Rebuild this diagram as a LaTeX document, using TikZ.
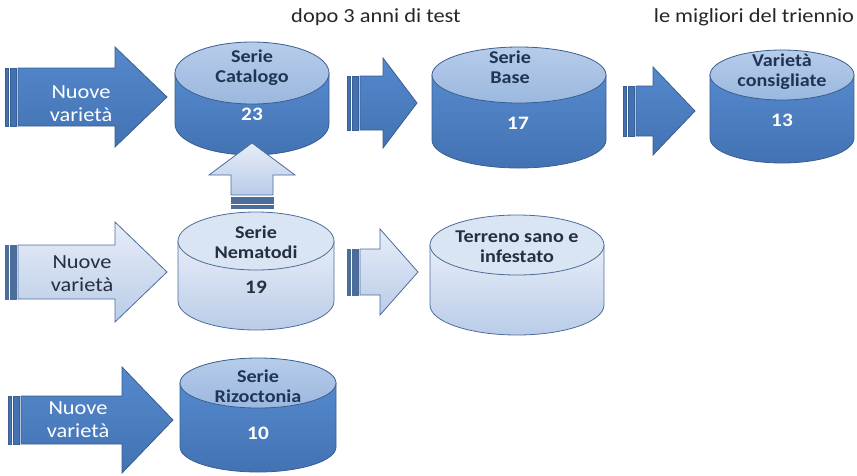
\documentclass[tikz,border=0pt]{standalone}
\usepackage{fontspec}
\setmainfont{Carlito}[FakeStretch=1.12]
\usetikzlibrary{positioning}

\definecolor{edge}{HTML}{3A5E90}
\definecolor{dkhi}{HTML}{5589CC}
\definecolor{dklo}{HTML}{4272B3}
\definecolor{caphi}{HTML}{B6CCEA}
\definecolor{caplo}{HTML}{9CB8DF}
\definecolor{ltedge}{HTML}{4C6D9A}
\definecolor{lthi}{HTML}{E6EDF8}
\definecolor{ltlo}{HTML}{BACCE8}
\definecolor{ltcapc}{HTML}{DAE5F3}
\definecolor{navy}{HTML}{1E3556}
\definecolor{ink}{HTML}{262F3F}

\begin{document}
\begin{tikzpicture}[
  x=1pt, y=-1pt,
  drumdk/.style={draw=edge, line width=0.8pt, top color=dkhi, bottom color=dklo},
  capdk/.style={draw=edge, line width=0.8pt, top color=caphi, bottom color=caplo},
  drumlt/.style={draw=ltedge, line width=0.8pt, top color=lthi, bottom color=ltlo},
  caplt/.style={draw=ltedge, line width=0.8pt, fill=ltcapc},
  stripedk/.style={draw=edge, line width=0.6pt, fill=dklo},
  stripelt/.style={draw=ltedge, line width=0.6pt, fill=ltedge},
  arrowtxt/.style={align=center, font=\fontsize{20}{23}\selectfont},
  drumtxt/.style={align=center, font=\bfseries\fontsize{18}{20}\selectfont},
  numtxt/.style={font=\bfseries\fontsize{19}{21}\selectfont},
  toptxt/.style={font=\fontsize{20}{23}\selectfont, text=black!85}
]
  \useasboundingbox (0,0) rectangle (857,475);

  % drums
  \foreach \cx/\ty/\by/\rx/\ry/\kind in {252/73/124/77/31/dk, 519/75/140/87/28/dk,
      782/75/138/72/25/dk, 256/241/301/78/29/lt, 517/245/305/87/30/lt, 258/383/447/78/25/dk} {
    \path[style=drum\kind] (\cx-\rx,\ty) -- (\cx-\rx,\by)
      arc[start angle=180, end angle=0, x radius=\rx, y radius=\ry] -- (\cx+\rx,\ty) -- cycle;
    \path[style=cap\kind] (\cx,\ty) ellipse [x radius=\rx, y radius=\ry];
  }

  % striped block arrows
  \foreach \xa/\hs/\xt/\yc/\bh/\hh/\kind in {5/115/167/97/29/50/dk, 347/383/417/103/27/45/dk,
      623/653/695/111/25/44/dk, 5/115/167/272/27/50/lt, 347/380/418/272/23/43/lt,
      8/122/173/420/24/53/dk} {
    \path[style=stripe\kind] (\xa,\yc-\bh) rectangle (\xa+3,\yc+\bh);
    \path[style=stripe\kind] (\xa+5,\yc-\bh) rectangle (\xa+11,\yc+\bh);
    \path[style=drum\kind] (\xa+13,\yc-\bh) -- (\hs,\yc-\bh) -- (\hs,\yc-\hh) -- (\xt,\yc)
      -- (\hs,\yc+\hh) -- (\hs,\yc+\bh) -- (\xa+13,\yc+\bh) -- cycle;
  }

  % upward arrow
  \path[stripelt] (231,205) rectangle (273,208);
  \path[stripelt] (231,197) rectangle (273,203);
  \path[drumlt] (231,195) -- (231,175) -- (209,175) -- (252,143) -- (295,175)
    -- (273,175) -- (273,195) -- cycle;

  \node (test) [toptxt] at (376,17) {dopo 3 anni di test};
  \node (best) [toptxt] at (754,17) {le migliori del triennio};

  \node (nv1) [arrowtxt, text=white] at (81,104) {Nuove\\varietà};
  \node (nv2) [arrowtxt, text=ink] at (82,274) {Nuove\\varietà};
  \node (nv3) [arrowtxt, text=white] at (78,420) {Nuove\\varietà};

  \node (catalogo) [drumtxt, text=navy] at (252,68) {Serie\\Catalogo};
  \node (catnum) [numtxt, text=white] at (252,114) {23};
  \node (base) [drumtxt, text=navy] at (510,67) {Serie\\Base};
  \node (basenum) [numtxt, text=white] at (518,123) {17};
  \node (consigliate) [drumtxt, text=navy] at (782,72) {Varietà\\consigliate};
  \node (consnum) [numtxt, text=white] at (782,120) {13};
  \node (nematodi) [drumtxt, text=ink] at (256,242) {Serie\\Nematodi};
  \node (nemnum) [numtxt, text=ink] at (256,287) {19};
  \node (terreno) [drumtxt, text=ink] at (517,247) {Terreno sano e\\infestato};
  \node (rizoctonia) [drumtxt, text=navy] at (258,386) {Serie\\Rizoctonia};
  \node (riznum) [numtxt, text=white] at (258,433) {10};
\end{tikzpicture}
\end{document}
